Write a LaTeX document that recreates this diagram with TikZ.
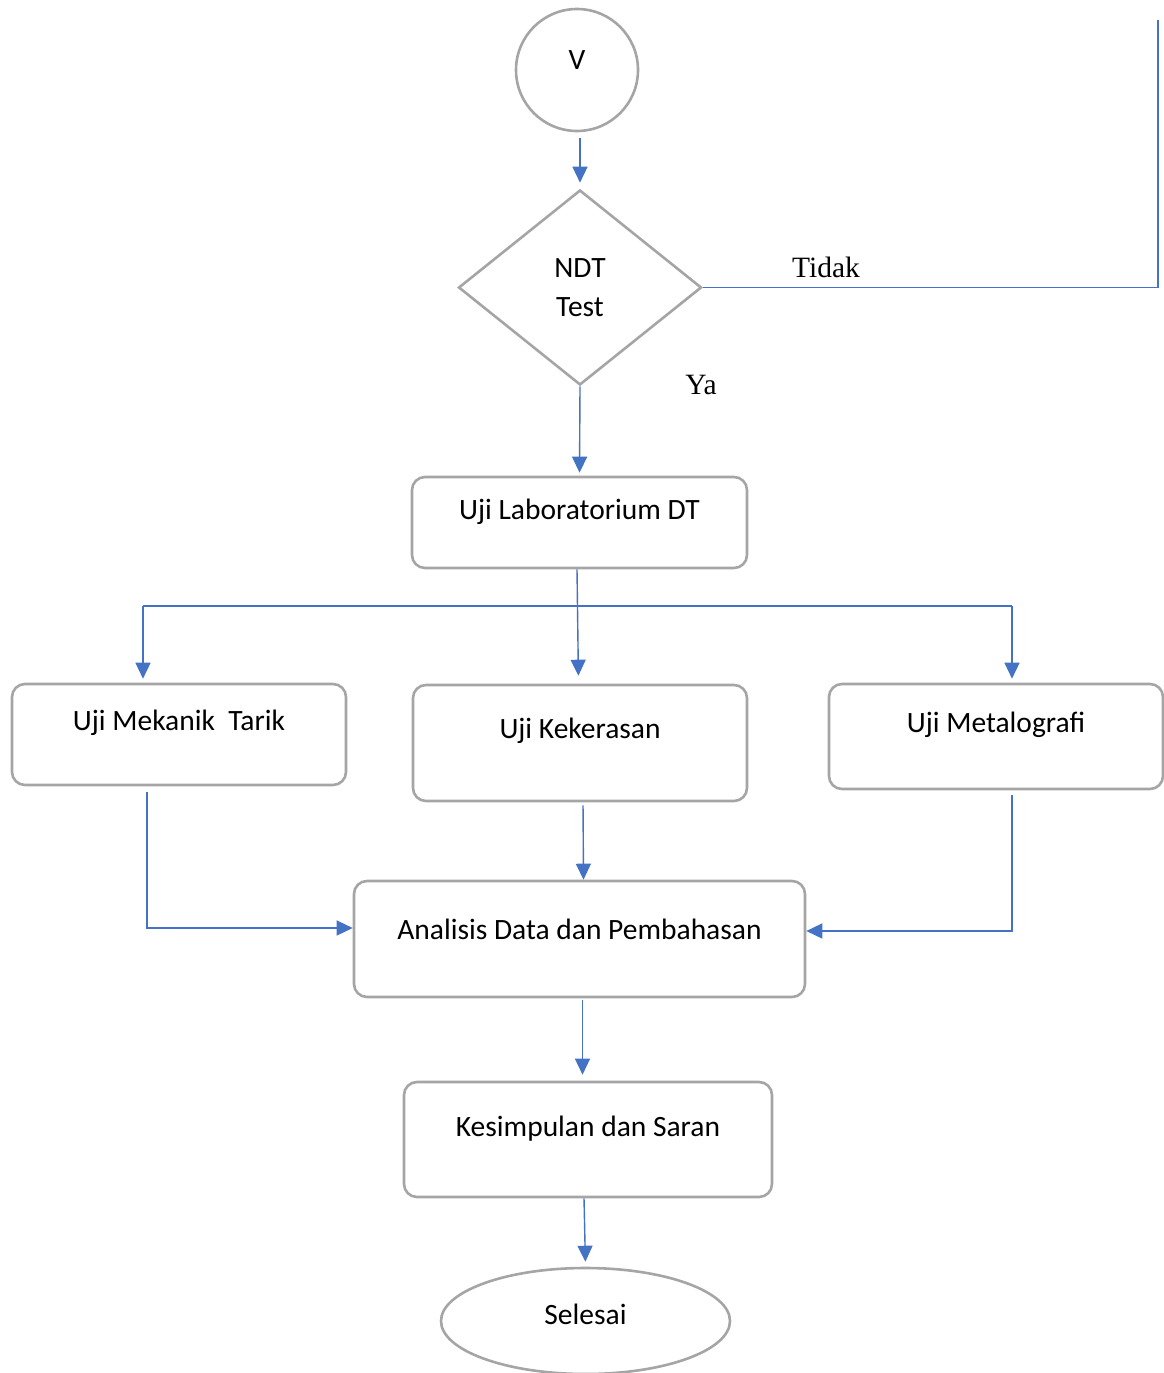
\documentclass[tikz,border=0pt]{standalone}
\usepackage{fontspec}
\setmainfont{Carlito}
\newfontfamily\timesfont{Liberation Serif}
\usepackage{tikz}
\usetikzlibrary{arrows.meta, positioning, calc, shapes.geometric}
\definecolor{garis}{HTML}{A5A5A5}
\definecolor{biru}{HTML}{4472C4}

\tikzset{
    kotak/.style={draw=garis, line width=2.6pt, rounded corners=13pt, inner sep=0pt},
    flow/.style={draw=biru, line width=1.4pt, -{Triangle[length=16pt, width=15pt]}},
    link/.style={draw=biru, line width=1.4pt},
}

\begin{document}
\begin{tikzpicture}[x=1pt, y=-1pt, font=\fontsize{29.5}{39}\selectfont]
    \useasboundingbox (0,0) rectangle (1164,1373);

    % awal
    \node[circle, draw=garis, line width=2.6pt, minimum size=122pt, inner sep=0pt,
          label={[yshift=10pt]center:V}] (v) at (577,70) {};

    % keputusan NDT
    \node[diamond, draw=garis, line width=2.6pt, minimum width=243pt, minimum height=195pt,
          inner sep=0pt, align=center] (ndt) at (580,287.5) {NDT\\Test};
    \node[font=\timesfont\fontsize{29.5}{32}\selectfont] (tidak) at (826,267) {Tidak};
    \node[font=\timesfont\fontsize{29.5}{32}\selectfont] (ya) at (701,385) {Ya};
    \coordinate (kembali) at (1158,20);

    % kotak proses
    \node[kotak, minimum width=335pt, minimum height=91pt,
          label={[yshift=10.5pt]center:Uji Laboratorium DT}] (lab) at (579.5,522.5) {};
    \node[kotak, minimum width=334pt, minimum height=101pt,
          label={[yshift=11.5pt]center:Uji Mekanik\ \ Tarik}] (mek) at (179,734.5) {};
    \node[kotak, minimum width=334pt, minimum height=116pt,
          label={[yshift=12pt]center:Uji Kekerasan}] (kek) at (580,743) {};
    \node[kotak, minimum width=334pt, minimum height=105pt,
          label={[yshift=11.5pt]center:Uji Metalografi}] (met) at (996,736.5) {};
    \node[kotak, minimum width=451pt, minimum height=116pt,
          label={[yshift=10pt]center:Analisis Data dan Pembahasan}] (ana) at (579.5,939) {};
    \node[kotak, minimum width=368pt, minimum height=115pt,
          label={[yshift=10.5pt]center:Kesimpulan dan Saran}] (kes) at (588,1139.5) {};

    % akhir
    \node[ellipse, draw=garis, line width=2.6pt, minimum width=289pt, minimum height=106pt,
          inner sep=0pt, label={[yshift=7pt]center:Selesai}] (selesai) at (585.5,1321) {};

    % percabangan
    \coordinate (cabangKiri) at (143,606);
    \coordinate (cabangKanan) at (1012,606);

    % panah
    \draw[flow, shorten <=6pt, shorten >=6pt] ([xshift=3pt]v.south) -- (ndt.north);
    \draw[link] (ndt.east) -| (kembali);
    \draw[flow, shorten >=3pt] (ndt.south) -- (lab.north);
    \draw[flow, shorten >=8pt] ([xshift=-2.5pt]lab.south) -- ([xshift=-1.5pt]kek.north);
    \draw[link] (cabangKiri) -- (cabangKanan);
    \draw[flow, shorten >=4pt] (cabangKiri) -- (cabangKiri |- mek.north);
    \draw[flow, shorten >=4pt] (cabangKanan) -- (cabangKanan |- met.north);
    \draw[flow] ([xshift=-32pt, yshift=-6pt]mek.south) |- ([yshift=11pt]ana.west);
    \draw[flow, shorten <=3pt] ([xshift=3pt]kek.south) -- ([xshift=4pt]ana.north);
    \draw[flow] ([xshift=16pt, yshift=-5pt]met.south) |- ([yshift=8pt]ana.east);
    \draw[flow, shorten <=2pt, shorten >=6pt] ([xshift=3pt]ana.south) -- ([xshift=3pt]ana.south |- kes.north);
    \draw[flow, shorten >=5pt] ([xshift=-4pt]kes.south) -- (selesai.north);
\end{tikzpicture}
\end{document}
